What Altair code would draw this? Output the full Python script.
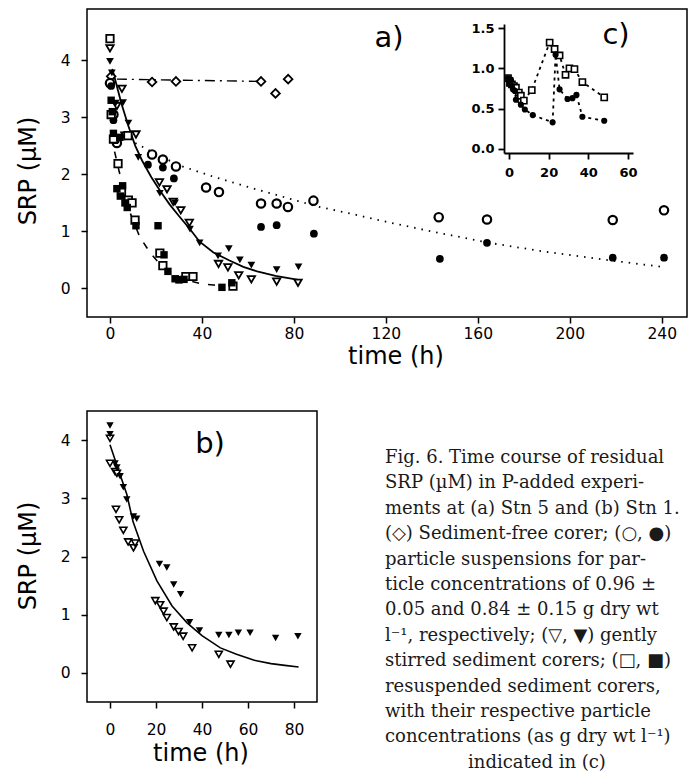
import altair as alt
import pandas as pd

W, H = 680, 764

# ---------------- Panel a (Stn 5) ----------------
diam_t = [0.5, 18.3, 28.7, 65.7, 72.0, 77.5]
diam_v = [3.72, 3.62, 3.63, 3.63, 3.42, 3.67]
diam_line_t = [3, 66]
diam_line_v = [3.67, 3.63]

ocirc_t = [0, 1.5, 3, 18.3, 23, 28.7, 41.8, 47.4, 65.7, 72.5, 77.4, 88.5, 143, 164, 218.7, 241]
ocirc_v = [3.6, 3.05, 2.55, 2.35, 2.26, 2.14, 1.77, 1.69, 1.49, 1.49, 1.43, 1.54, 1.25, 1.21, 1.2, 1.37]
fcirc_t = [0.5, 1.5, 2.5, 16.5, 23, 27.8, 65.7, 72.5, 88.7, 143.5, 164, 218.7, 241]
fcirc_v = [3.55, 2.95, 2.6, 2.17, 2.12, 1.93, 1.08, 1.11, 0.96, 0.52, 0.8, 0.54, 0.54]
circ_fit_t = [11, 20, 30, 45, 60, 75, 90, 105, 120, 140, 165, 190, 218, 240]
circ_fit_v = [2.55, 2.36, 2.16, 1.96, 1.78, 1.61, 1.44, 1.31, 1.17, 1.0, 0.8, 0.64, 0.49, 0.38]

otri_t = [0, 3, 5.2, 6.5, 11.3, 21.5, 24.8, 27.5, 30.8, 34.5, 47.2, 51.3, 56, 61.5, 72.5, 81.8]
otri_v = [4.21, 3.2, 3.5, 2.68, 2.7, 1.86, 1.74, 1.52, 1.37, 1.15, 0.43, 0.37, 0.23, 0.16, 0.12, 0.1]
ftri_t = [0, 0.8, 2.5, 5.7, 8, 12.3, 21.7, 28.3, 34.8, 39, 47, 51.7, 56.5, 61.5, 72.5, 82]
ftri_v = [3.98, 3.78, 3.25, 3.26, 2.9, 2.3, 1.67, 1.5, 1.04, 0.8, 0.57, 0.7, 0.5, 0.41, 0.33, 0.38]
tri_fit_t = [1, 2, 5, 8, 11, 14, 18, 22, 26, 30, 35, 39, 45, 52, 58, 64, 72, 82]
tri_fit_v = [3.85, 3.7, 3.24, 2.85, 2.5, 2.24, 1.95, 1.7, 1.47, 1.27, 1.03, 0.82, 0.63, 0.49, 0.38, 0.3, 0.22, 0.15]

osq_t = [0, 0.5, 1.5, 3.5, 5, 7.8, 8, 9.6, 10.9, 21.7, 23, 33, 36.1, 53.5]
osq_v = [4.38, 3.05, 2.62, 2.19, 1.7, 2.68, 1.55, 1.5, 1.2, 0.62, 0.4, 0.21, 0.21, 0.04]
fsq_t = [0.5, 1, 1.5, 4.3, 3, 4.5, 5.5, 6.5, 7.5, 11.3, 20.9, 23.5, 25.2, 28.3, 30, 32.2, 48.7, 53]
fsq_v = [3.3, 3.1, 2.72, 2.65, 1.75, 1.62, 1.8, 1.5, 1.42, 1.1, 1.1, 0.59, 0.3, 0.17, 0.15, 0.16, 0.02, 0.1]
sq_fit_t = [2, 4, 6, 9, 13, 17.4, 21, 25, 30, 35, 40, 45, 50]
sq_fit_v = [2.4, 2.05, 1.75, 1.3, 0.9, 0.63, 0.46, 0.33, 0.21, 0.13, 0.08, 0.06, 0.05]

# ---------------- Panel c (inset) ----------------
c_sq_t = [-0.5, 0.5, 1.5, 2.5, 3.5, 5, 6, 7.5, 11.5, 20.5, 23, 25.5, 28.5, 30.5, 33, 37, 48]
c_sq_v = [0.88, 0.82, 0.8, 0.78, 0.76, 0.7, 0.66, 0.6, 0.73, 1.32, 1.24, 1.16, 0.92, 1.0, 0.99, 0.83, 0.64]
c_ci_t = [-0.5, 0, 0.5, 1, 1.5, 2, 3, 3.5, 6, 8, 12, 22, 23.5, 25.5, 29.5, 32, 34, 37, 48]
c_ci_v = [0.88, 0.84, 0.8, 0.86, 0.78, 0.74, 0.72, 0.61, 0.55, 0.49, 0.42, 0.33, 1.17, 0.74, 0.62, 0.63, 0.67, 0.4, 0.35]

# ---------------- Panel b (Stn 1) ----------------
b_ftri_t = [0, 0, 2.2, 3, 4.4, 5.8, 7.3, 10.2, 11.6, 21.5, 24.7, 27.7, 30.7, 34.6, 38.9, 47.3, 51.7, 55.8, 60.9, 72, 81.7]
b_ftri_v = [4.25, 4.1, 3.6, 3.53, 3.38, 3.19, 2.98, 2.69, 2.65, 1.87, 1.81, 1.52, 1.35, 0.87, 0.73, 0.65, 0.65, 0.69, 0.69, 0.6, 0.63]
b_otri_t = [0, 0, 2.2, 3, 2.6, 4, 5.8, 7.9, 10.2, 10.9, 19.7, 21.8, 23.3, 24.7, 27.7, 29.8, 31.8, 35.7, 47.3, 52.4]
b_otri_v = [4.03, 3.6, 3.46, 3.43, 2.81, 2.63, 2.45, 2.25, 2.15, 2.23, 1.24, 1.17, 1.06, 0.95, 0.79, 0.71, 0.63, 0.43, 0.32, 0.15]
b_fit_t = [0, 4, 7.3, 10, 14.6, 20.4, 27, 33.5, 40, 48, 55, 62.4, 70, 76, 82]
b_fit_v = [3.92, 3.45, 3.07, 2.6, 2.09, 1.58, 1.15, 0.86, 0.64, 0.43, 0.32, 0.22, 0.16, 0.13, 0.1]

a_xticks = [0, 40, 80, 120, 160, 200, 240]
ab_yticks = [0, 1, 2, 3, 4]
b_xticks = [0, 20, 40, 60, 80]
c_xticks = [0, 20, 40, 60]
c_yticks = [0.0, 0.5, 1.0, 1.5]

caption_lines = [
    "Fig. 6. Time course of residual",
    "SRP (\u00b5M) in P-added experi-",
    "ments at (a) Stn 5 and (b) Stn 1.",
    "(\u25c7) Sediment-free corer; (\u25cb, \u25cf)",
    "particle suspensions for par-",
    "ticle concentrations of 0.96 \u00b1",
    "0.05 and 0.84 \u00b1 0.15 g dry wt",
    "l\u207b\u00b9, respectively; (\u25bd, \u25bc) gently",
    "stirred sediment corers; (\u25a1, \u25a0)",
    "resuspended sediment corers,",
    "with their respective particle",
    "concentrations (as g dry wt l\u207b\u00b9)",
]
caption_last = "indicated in (c)"

FONT = "DejaVu Sans"

# scales (pixel ranges place each panel)
AX = alt.Scale(domain=[-10, 251], range=[79, 679], nice=False, zero=False)
AY = alt.Scale(domain=[-0.5, 4.9], range=[309, 1], nice=False, zero=False)
BX = alt.Scale(domain=[-10, 90], range=[79, 309], nice=False, zero=False)
BY = alt.Scale(domain=[-0.5, 4.5], range=[694, 403], nice=False, zero=False)
CX = alt.Scale(domain=[-2.5, 62.5], range=[496, 625], nice=False, zero=False)
CY = alt.Scale(domain=[-0.05, 1.55], range=[145, 16], nice=False, zero=False)

common_axis = dict(grid=False, domain=False, labelFont=FONT, labelFontSize=15.5, labelColor="black",
                   tickColor="black", tickWidth=1.5, tickSize=6)
AXA = alt.Axis(orient="bottom", offset=309 - H, values=a_xticks, format="d", labelPadding=3, **common_axis)
AYA = alt.Axis(orient="left", offset=-79, values=ab_yticks, format="d", labelPadding=11, **common_axis)
BXA = alt.Axis(orient="bottom", offset=694 - H, values=b_xticks, format="d", labelPadding=14, **common_axis)
BYA = alt.Axis(orient="left", offset=-79, values=ab_yticks, format="d", labelPadding=11, **common_axis)
inset_axis = dict(grid=False, domain=True, domainColor="black", domainWidth=1.8, labelFont=FONT,
                  labelFontSize=13, labelFontWeight="bold", labelColor="black",
                  tickColor="black", tickWidth=1.8, tickSize=6)
CXA = alt.Axis(orient="bottom", offset=145 - H, values=c_xticks, format="d", labelPadding=7, **inset_axis)
CYA = alt.Axis(orient="left", offset=-496, values=c_yticks, format=".1f", labelPadding=4, **inset_axis)


def df(t, v):
    return pd.DataFrame({"t": t, "v": v})


def enc(ch, xs, ys, xa, ya):
    return ch.encode(x=alt.X("t:Q", scale=xs, axis=xa, title=None),
                     y=alt.Y("v:Q", scale=ys, axis=ya, title=None))


def pts(t, v, shape, filled, size, xs, ys, xa, ya, sw=1.8):
    if filled:
        m = alt.Chart(df(t, v)).mark_point(shape=shape, filled=True, size=size, color="black",
                                           opacity=1, strokeWidth=0.8)
    else:
        m = alt.Chart(df(t, v)).mark_point(shape=shape, filled=False, size=size, color="black",
                                           opacity=1, strokeWidth=sw, fill="white", fillOpacity=1)
    return enc(m, xs, ys, xa, ya)


def line(t, v, xs, ys, xa, ya, width=1.6, dash=None):
    kw = dict(color="black", strokeWidth=width)
    if dash:
        kw["strokeDash"] = dash
    return enc(alt.Chart(df(t, v)).mark_line(**kw), xs, ys, xa, ya)


def frame(x0, x1, y0, y1, xs, ys, xa, ya):
    d = pd.DataFrame({"x0": [x0], "x1": [x1], "y0": [y0], "y1": [y1]})
    return alt.Chart(d).mark_rect(fillOpacity=0, stroke="black", strokeWidth=1.5).encode(
        x=alt.X("x0:Q", scale=xs, axis=xa, title=None), x2="x1:Q",
        y=alt.Y("y0:Q", scale=ys, axis=ya, title=None), y2="y1:Q")


def txt(s, x, y, size, font=FONT, angle=None, align="center", weight="normal", color="black"):
    kw = dict(fontSize=size, font=font, align=align, baseline="middle", color=color, fontWeight=weight)
    if angle is not None:
        kw["angle"] = angle
    return alt.Chart(pd.DataFrame({"s": [s]})).mark_text(**kw).encode(
        text="s:N", x=alt.value(x), y=alt.value(y))


A = (AX, AY, AXA, AYA)
panel_a = alt.layer(
    frame(-10, 251, -0.5, 4.9, *A),
    line(diam_line_t, diam_line_v, *A, width=1.4, dash=[10, 5, 2, 5]),
    line(circ_fit_t, circ_fit_v, *A, width=1.8, dash=[1.5, 6]),
    line(tri_fit_t, tri_fit_v, *A, width=1.8),
    line(sq_fit_t, sq_fit_v, *A, width=1.6, dash=[7, 9]),
    pts(diam_t, diam_v, "diamond", False, 75, *A),
    pts(ocirc_t, ocirc_v, "circle", False, 70, *A, sw=2.2),
    pts(fcirc_t, fcirc_v, "circle", True, 60, *A),
    pts(otri_t, otri_v, "triangle-down", False, 55, *A),
    pts(ftri_t, ftri_v, "triangle-down", True, 60, *A),
    pts(osq_t, osq_v, "square", False, 55, *A),
    pts(fsq_t, fsq_v, "square", True, 55, *A),
)

C = (CX, CY, CXA, CYA)
c_sq = df(c_sq_t, c_sq_v).assign(i=range(len(c_sq_t)))
c_ci = df(c_ci_t, c_ci_v).assign(i=range(len(c_ci_t)))
inset = alt.layer(
    enc(alt.Chart(c_sq).mark_line(color="black", strokeWidth=1.8, strokeDash=[3, 4]), *C).encode(order="i:Q"),
    enc(alt.Chart(c_ci).mark_line(color="black", strokeWidth=1.8, strokeDash=[3, 4]), *C).encode(order="i:Q"),
    pts(c_sq_t, c_sq_v, "square", False, 38, *C, sw=1.6),
    pts(c_ci_t, c_ci_v, "circle", True, 38, *C),
)

B = (BX, BY, BXA, BYA)
panel_b = alt.layer(
    frame(-10, 90, -0.5, 4.5, *B),
    line(b_fit_t, b_fit_v, *B, width=1.6),
    pts(b_otri_t, b_otri_v, "triangle-down", False, 50, *B, sw=1.6),
    pts(b_ftri_t, b_ftri_v, "triangle-down", True, 55, *B),
)

cap_df = pd.DataFrame({"s": caption_lines, "i": list(range(len(caption_lines)))})
caption = alt.Chart(cap_df).mark_text(font="DejaVu Serif", fontSize=18, align="left",
                                      baseline="middle", color="#1a1a1a").encode(
    text="s:N", x=alt.value(377),
    y=alt.Y("i:Q", scale=alt.Scale(domain=[0, 11], range=[450, 729.4], nice=False, zero=False), axis=None))

texts = alt.layer(
    txt("SRP (\u00b5M)", 21, 163, 24, angle=270),
    txt("time (h)", 388, 349, 24),
    txt("SRP (\u00b5M)", 21, 548, 24, angle=270),
    txt("time (h)", 193, 746, 24),
    txt("a)", 381, 30, 29),
    txt("b)", 202, 436, 29),
    txt("c)", 608, 27, 29),
    txt(caption_last, 529, 755, 18, font="DejaVu Serif", color="#1a1a1a"),
)

chart = alt.layer(panel_a, inset, panel_b, caption, texts).resolve_scale(
    x="independent", y="independent"
).properties(
    width=W, height=H, autosize=alt.AutoSizeParams(type="none"), padding=0, background="white"
).configure_view(stroke=None)

chart.save("out.html", embed_options={"renderer": "svg", "actions": False})
